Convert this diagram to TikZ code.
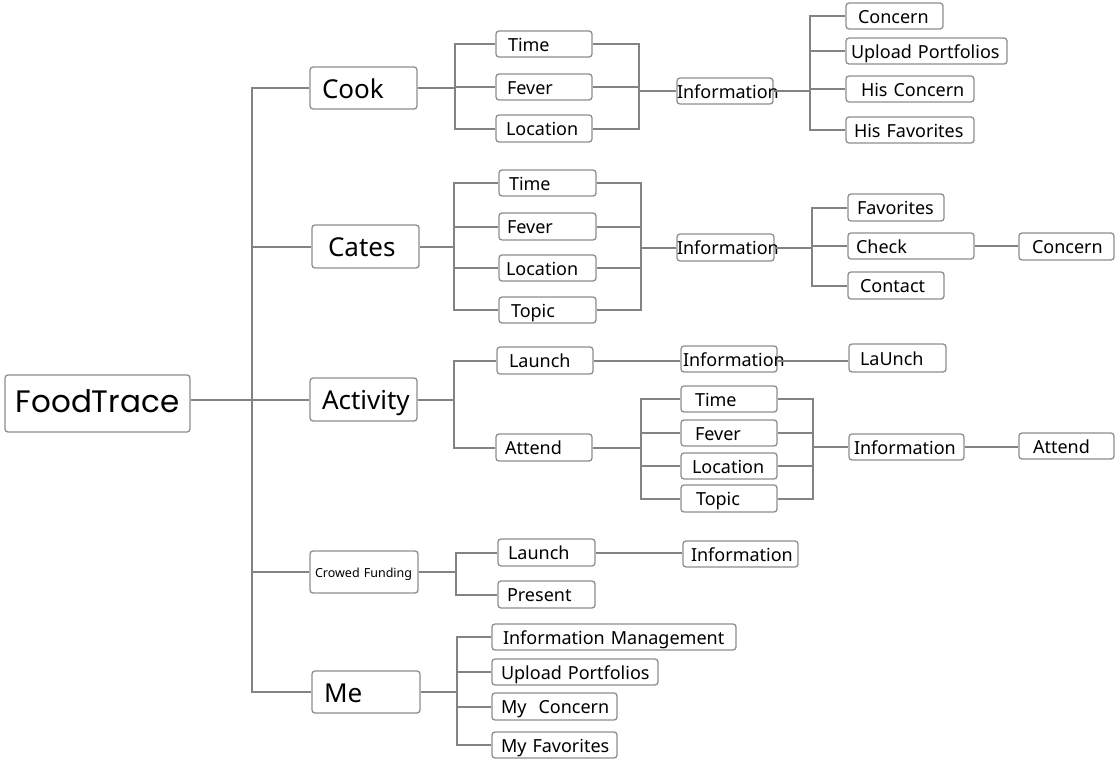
\documentclass[tikz,border=0pt]{standalone}
\usepackage{fontspec}
\setmainfont{Noto Sans}
\newfontfamily\popfont{Poppins}
\definecolor{lncol}{HTML}{838383}
\definecolor{bxcol}{HTML}{8E8E8E}
\newcommand\mkbox[8][]{%
 \pgfmathsetmacro\bxw{#5-#3}%
 \pgfmathsetmacro\bxh{#6-#4}%
 \pgfmathsetmacro\bxt{#5-#3-2*#7}%
 \pgfmathsetmacro\bxcx{(#3+#5)/2}%
 \pgfmathsetmacro\bxcy{(#4+#6)/2}%
 \node[bxs,minimum width=\bxw pt,minimum height=\bxh pt,text width=\bxt pt,inner xsep=#7pt,#1] (#2) at (\bxcx,\bxcy) {\mbox{#8}};}
\begin{document}
\begin{tikzpicture}[x=1pt,y=-1pt,
  ln/.style={draw=lncol,line width=2pt,line join=miter},
  bxs/.style={draw=bxcol,line width=1.3pt,rounded corners=3pt,fill=white,inner ysep=0pt,align=left,
    font=\fontsize{18}{20}\selectfont,text height=14.8pt,text depth=0pt},
  big/.style={font=\fontsize{26}{30}\selectfont,text height=20.6pt},
  tiny/.style={font=\fontsize{12.5}{14}\selectfont,text height=10.4pt}]
\useasboundingbox (0,0) rectangle (1115,760);
\fill[white] (0,0) rectangle (1115,760);
% root
\mkbox[align=center,font=\popfont\fontsize{31}{36}\selectfont,text height=18.7pt]{ft}{5}{375}{190}{432}{8}{FoodTrace}
% level 1
\mkbox[big]{cook}{310}{67}{417}{109}{12}{Cook}
\mkbox[big]{cates}{312}{225}{419}{268}{16}{Cates}
\mkbox[big]{act}{310}{378}{417}{421}{12}{Activity}
\mkbox[tiny]{crowd}{310}{551}{418}{593}{5}{Crowed Funding}
\mkbox[big]{me}{312}{671}{420}{713}{12}{Me}
% Cook
\mkbox{c1}{496}{31}{592}{57}{12}{Time}
\mkbox{c2}{496}{74}{592}{100}{11}{Fever}
\mkbox{c3}{496}{115}{592}{142}{10}{Location}
\mkbox{cinfo}{677}{78}{773}{104}{0}{Information}
\mkbox{c4}{846}{3}{943}{29}{12}{Concern}
\mkbox{c5}{846}{38}{1007}{64}{5}{Upload Portfolios}
\mkbox{c6}{846}{76}{974}{102}{15}{His Concern}
\mkbox{c7}{846}{117}{974}{143}{8}{His Favorites}
% Cates
\mkbox{t1}{499}{170}{596}{196}{10}{Time}
\mkbox{t2}{499}{213}{596}{240}{8}{Fever}
\mkbox{t3}{499}{255}{596}{281}{7}{Location}
\mkbox{t4}{499}{297}{596}{323}{12}{Topic}
\mkbox{tinfo}{677}{234}{774}{261}{0}{Information}
\mkbox{t5}{848}{194}{944}{221}{9}{Favorites}
\mkbox{t6}{848}{233}{974}{259}{8}{Check}
\mkbox{t7}{848}{272}{944}{299}{12}{Contact}
\mkbox{t8}{1019}{233}{1114}{260}{13}{Concern}
% Activity
\mkbox{a1}{497}{347}{593}{374}{12}{Launch}
\mkbox{a2}{496}{434}{592}{461}{9}{Attend}
\mkbox{ainfo}{681}{346}{777}{372}{2}{Information}
\mkbox{a3}{849}{344}{946}{372}{11}{LaUnch}
\mkbox{a4}{681}{386}{777}{412}{14}{Time}
\mkbox{a5}{681}{420}{777}{446}{14}{Fever}
\mkbox{a6}{681}{453}{777}{479}{11}{Location}
\mkbox{a7}{681}{485}{777}{512}{15}{Topic}
\mkbox{a8}{849}{434}{964}{460}{5}{Information}
\mkbox{a9}{1019}{433}{1114}{459}{14}{Attend}
% Crowed Funding
\mkbox{w1}{498}{539}{595}{566}{10}{Launch}
\mkbox{w2}{498}{581}{595}{608}{9}{Present}
\mkbox{w3}{683}{541}{798}{567}{8}{Information}
% Me
\mkbox{m1}{492}{624}{736}{650}{11}{Information Management}
\mkbox{m2}{492}{659}{658}{685}{9}{Upload Portfolios}
\mkbox{m3}{492}{693}{617}{720}{9}{My\ \ Concern}
\mkbox{m4}{492}{732}{617}{758}{9}{My Favorites}
% bracket coordinates
\coordinate (tr) at (252,0);
\coordinate (cookL) at (455,0);
\coordinate (cookR) at (639,0);
\coordinate (cinfoR) at (810,0);
\coordinate (catesL) at (454,0);
\coordinate (catesR) at (641,0);
\coordinate (tinfoR) at (812,0);
\coordinate (actL) at (454,0);
\coordinate (attL) at (641,0);
\coordinate (attR) at (813,0);
\coordinate (crowdL) at (456,0);
\coordinate (meL) at (457,0);
% trunk
\draw[ln] (ft.east |- act) -- (act.west);
\draw[ln] (cook.west) -- (tr |- cook) -- (tr |- me) -- (me.west);
\draw[ln] (tr |- cates) -- (cates.west);
\draw[ln] (tr |- crowd) -- (crowd.west);
% Cook branch
\draw[ln] (cook.east) -- (cookL |- cook);
\draw[ln] (c1.west) -- (cookL |- c1) -- (cookL |- c3) -- (c3.west);
\draw[ln] (cookL |- c2) -- (c2.west);
\draw[ln] (c1.east) -- (cookR |- c1) -- (cookR |- c3) -- (c3.east);
\draw[ln] (c2.east) -- (cookR |- c2);
\draw[ln] (cookR |- cinfo) -- (cinfo.west);
\draw[ln] (cinfo.east) -- (cinfoR |- cinfo);
\draw[ln] (c4.west) -- (cinfoR |- c4) -- (cinfoR |- c7) -- (c7.west);
\draw[ln] (cinfoR |- c5) -- (c5.west);
\draw[ln] (cinfoR |- c6) -- (c6.west);
% Cates branch
\draw[ln] (cates.east) -- (catesL |- cates);
\draw[ln] (t1.west) -- (catesL |- t1) -- (catesL |- t4) -- (t4.west);
\draw[ln] (catesL |- t2) -- (t2.west);
\draw[ln] (catesL |- t3) -- (t3.west);
\draw[ln] (t1.east) -- (catesR |- t1) -- (catesR |- t4) -- (t4.east);
\draw[ln] (t2.east) -- (catesR |- t2);
\draw[ln] (t3.east) -- (catesR |- t3);
\draw[ln] (catesR |- tinfo) -- (tinfo.west);
\draw[ln] (tinfo.east) -- (tinfoR |- tinfo);
\draw[ln] (t5.west) -- (tinfoR |- t5) -- (tinfoR |- t7) -- (t7.west);
\draw[ln] (tinfoR |- t6) -- (t6.west);
\draw[ln] (t6.east) -- (t8.west |- t6.east);
% Activity branch
\draw[ln] (act.east) -- (actL |- act);
\draw[ln] (a1.west) -- (actL |- a1) -- (actL |- a2) -- (a2.west);
\draw[ln] (a1.east) -- (ainfo.west |- a1.east);
\draw[ln] (ainfo.east |- a1.east) -- (a3.west |- a1.east);
\draw[ln] (a2.east) -- (attL |- a2);
\draw[ln] (a4.west) -- (attL |- a4) -- (attL |- a7) -- (a7.west);
\draw[ln] (attL |- a5) -- (a5.west);
\draw[ln] (attL |- a6) -- (a6.west);
\draw[ln] (a4.east) -- (attR |- a4) -- (attR |- a7) -- (a7.east);
\draw[ln] (a5.east) -- (attR |- a5);
\draw[ln] (a6.east) -- (attR |- a6);
\draw[ln] (attR |- a8) -- (a8.west);
\draw[ln] (a8.east) -- (a9.west |- a8.east);
% Crowed Funding branch
\draw[ln] (crowd.east) -- (crowdL |- crowd);
\draw[ln] (w1.west) -- (crowdL |- w1) -- (crowdL |- w2) -- (w2.west);
\draw[ln] (w1.east) -- (w3.west |- w1.east);
% Me branch
\draw[ln] (me.east) -- (meL |- me);
\draw[ln] (m1.west) -- (meL |- m1) -- (meL |- m4) -- (m4.west);
\draw[ln] (meL |- m2) -- (m2.west);
\draw[ln] (meL |- m3) -- (m3.west);
\end{tikzpicture}
\end{document}
